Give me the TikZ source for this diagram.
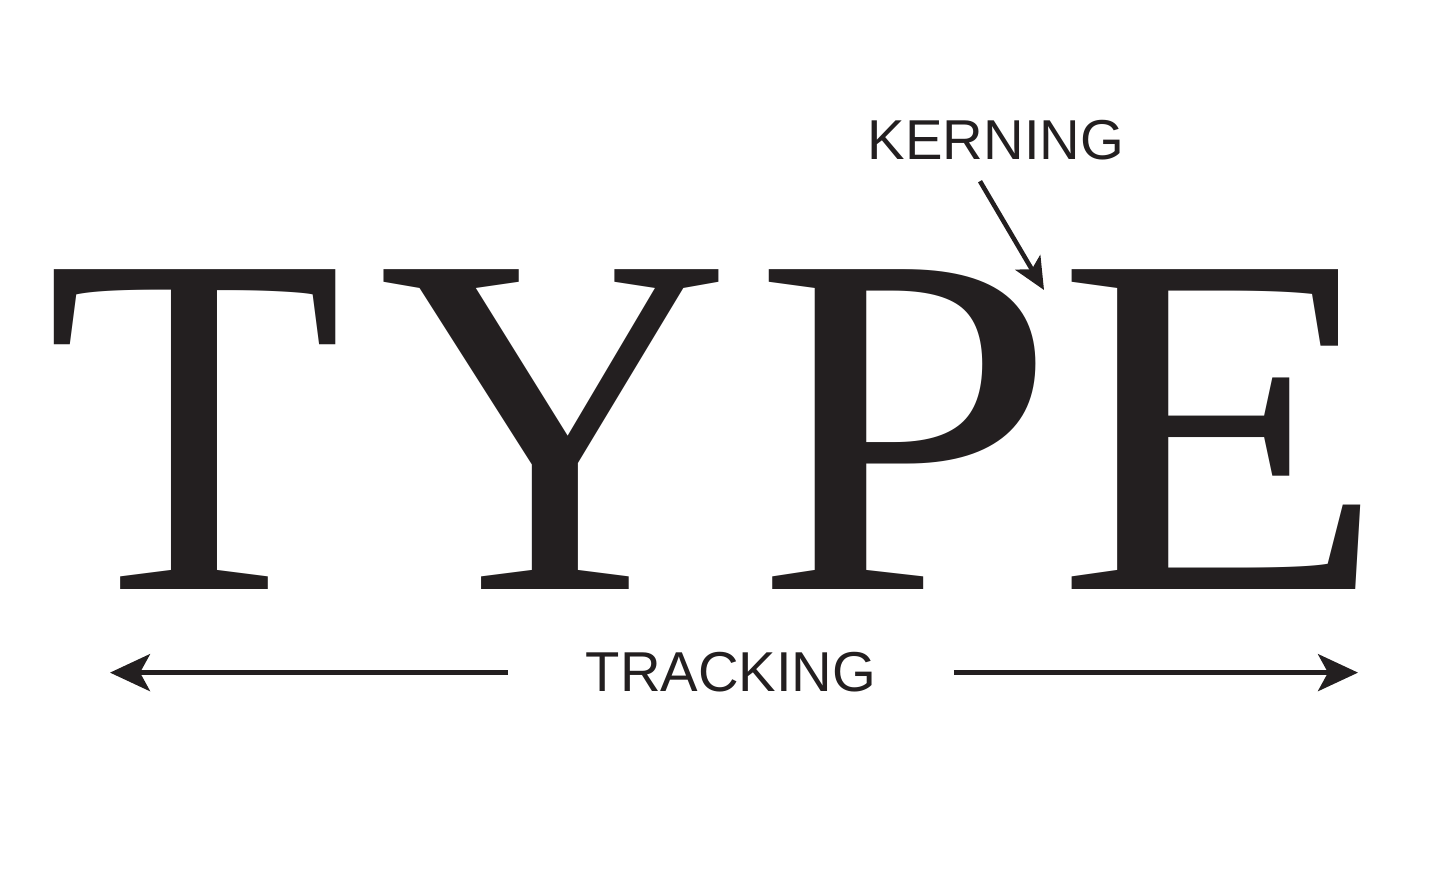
\documentclass[tikz,border=0pt]{standalone}
\usepackage{fontspec}
\setmainfont{Liberation Serif}
\newfontfamily\labelfont{Liberation Sans}
\usetikzlibrary{arrows.meta}
\definecolor{ink}{HTML}{231F20}
\tikzset{
	bigletter/.style={anchor=base, inner sep=0pt, text=ink, font=\fontsize{139pt}{140pt}\selectfont},
	tag/.style={anchor=base, text=ink, font=\labelfont\fontsize{16pt}{18pt}\selectfont},
	trk/.style={line width=1.3pt, draw=ink, -{Stealth[length=4mm, width=3.7mm, inset=1mm]}},
	krn/.style={line width=1.3pt, draw=ink, -{Stealth[length=3.2mm, width=2.9mm, inset=0.8mm]}}
}

\begin{document}
\begin{tikzpicture}
		%%%%% START %%%%%
		
		\useasboundingbox (0, 0) rectangle (14.4, 8.75);
		
		\node[bigletter] (T) at (1.95, 2.85) {T};
		\node[bigletter] (Y) at (5.55, 2.85) {Y};
		\node[bigletter, xscale=1.12] (P) at (9.06, 2.85) {P};
		\node[bigletter, xscale=1.11] (E) at (12.22, 2.85) {E};
		
		\node[tag, inner xsep=0pt, inner ysep=0.2cm] (kern) at (9.96, 7.15) {KERNING};
		\coordinate (gapPE) at (10.44, 5.85);
		\draw[krn] ([xshift=-1.6mm]kern.south) -- (gapPE);
		
		\node[tag, inner xsep=0.77cm, inner ysep=0pt] (track) at (7.31, 1.83) {TRACKING};
		\coordinate (trackL) at (1.10, 2.05);
		\coordinate (trackR) at (13.58, 2.05);
		\draw[trk] (track.west) -- (track.west -| trackL);
		\draw[trk] (track.east) -- (track.east -| trackR);
		
		%%%%% END %%%%%
	\end{tikzpicture}
\end{document}
